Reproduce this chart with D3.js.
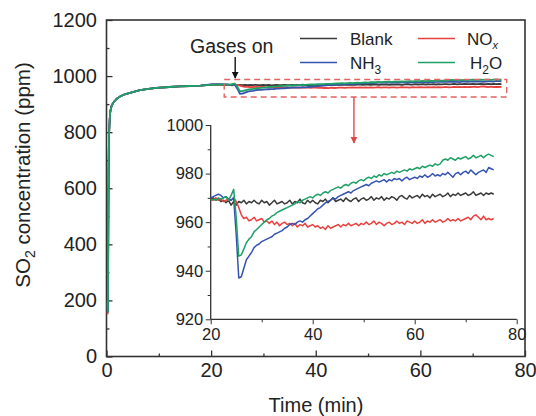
<!DOCTYPE html>
<html><head><meta charset="utf-8">
<script src="https://cdn.jsdelivr.net/npm/d3@7"></script>
<style>
body{margin:0;background:#fff;}
svg{display:block;font-family:"Liberation Sans",Arial,sans-serif;}
</style></head>
<body>
<svg id="chart" width="536" height="416"></svg>
<script>
// ---------------- DATA ----------------
// Start-up (0-18 min) shared rise, then the gas-exposure period (20-75.5 min, every 0.5 min)
const riseTime = [0.25,0.3,0.35,0.4,0.45,0.5,0.6,0.7,0.85,1.0,1.3,1.6,2.0,2.6,3.5,5,6.4,8,9.6,12,14,16,18];
const riseValues = [160,300,500,650,740,800,840,870,885,895,905,912,920,927,935,943,950,954,958,961,963,964.7,966];
const riseStart = {Blank:180, NOx:150, NH3:190, H2O:200};

const expTime = d3.range(20, 75.51, 0.5);

const blank = [
 969.5,970,969,969.5,968.5,969,968,969,967,968.5,
 967,968.5,968,969,967.5,968.5,968,969,968,967.5,
 969,968,968.5,967,968,969,967.5,968,968.5,967.5,
 968,969,967.5,968.5,968,969.5,968,967.5,969,968,
 969,968,967.5,969,968.5,969.5,968,969,970,968.5,
 969,969.5,968.5,970,969,968.5,969.5,970,968.5,969.5,
 970,969,969.5,970.5,969,970,969.5,970.5,969,970,
 969.5,970.5,970,969,970.5,971,970,969.5,971,970,
 970.5,971,970,971.5,970.5,971,970,971.5,970.5,971,
 971.5,970.5,971,972,970.5,971.5,971,972,971,971.5,
 972,971,971.5,972.5,971,971.5,972,971,972,971.5,
 972,971.5];
const nox = [
 969.5,969,970,969,969.5,968.5,969,969.5,969,970,
 968.5,966,963,961.5,962,960.5,961,962,960.5,961,
 961.5,960,960.5,959.5,960.5,959,960,958.5,959.5,960,
 959,959.5,958.5,959.5,958,959,958.5,959.5,958,958.5,
 959,958,958.5,957.5,958,957,958.5,957.5,958,958.5,
 959,958,959,958.5,959.5,958.5,959,959.5,958.5,959.5,
 959,960,959,959.5,960.5,959,960,959.5,958.5,959.5,
 960,959,959.5,960.5,959.5,960,959,960.5,960,959.5,
 960.5,959.5,960,961,959.5,960.5,960,961,960,960.5,
 961,960,960.5,961.5,960.5,961,960.5,961.5,960.5,961,
 961.5,962,961,962.5,963,962,961,962.5,961,961.5,
 961,961.5];
const nh3 = [
 970,970.5,971,971.5,971,970,970.5,969.5,969,970,
 955,937,937.5,941,944.5,946,947.5,949.5,950.5,951,
 952,952.5,953,953.5,954,955,955.5,956,956.5,957.5,
 958,959,959.5,959,960,960.5,960,961,961.5,962.5,
 963.5,964.5,965.5,966,967,968,968.5,969,970,969.5,
 970.5,971,971.5,972,972.5,972,973,973.5,974,974.5,
 975,975.5,975,976,976.5,977,976.5,977,977.5,976.5,
 977.5,977,978,977.5,978,977,978,978.5,977.5,978,
 978.5,978,979,978.5,979.5,978.5,979,980,979,979.5,
 979,980,979.5,980.5,979.5,978.5,980,980.5,979.5,980.5,
 981,980,981.5,980.5,979.5,980.5,981,981.5,980.5,982.5,
 982,981.5];
const h2o = [
 969,969.5,969,970,969.5,970,970.5,969,971,973.5,
 962,946,946.5,949,951.5,953,954,956,957,958,
 959,960,961,961.5,962.5,963,964,964.5,965,965.5,
 966,966.5,967,967.5,968.5,968,969,969.5,970,970.5,
 970,971,971.5,971,972,972.5,972,973,973.5,974,
 974.5,974,975,975.5,975,976,976.5,976,977,977.5,
 977,978,978.5,978,979,978.5,979.5,979,980,979.5,
 980,980.5,980,981,980.5,981,981.5,981,982,981.5,
 982,982.5,982,983,982.5,983,983.5,983,984,983.5,
 984,985.5,986,985.5,986.5,986,985.5,986.5,986,986.5,
 987,986,986.5,987.5,986.5,987,987.5,986.5,987.5,988,
 987.5,987];

const seriesNames = ["Blank","NOx","NH3","H2O"];
const seriesValues = [blank, nox, nh3, h2o];
const seriesColors = ["#3a3a3a","#e8423f","#3553b0","#1fa065"];

const mainXTicks = [0,20,40,60,80];
const mainYTicks = [0,200,400,600,800,1000,1200];
const insetXTicks = [20,40,60,80];
const insetYTicks = [920,940,960,980,1000];

// ---------------- DRAW ----------------
const svg = d3.select("#chart");
const font = "'Liberation Sans',Arial,sans-serif";
const ink = "#222";

// main scales
const x = d3.scaleLinear().domain([0,80]).range([106.5,525]);
const y = d3.scaleLinear().domain([0,1200]).range([356.5,20]);

const series = seriesNames.map((n,i)=>{
  const pts = [{t:0.2,v:riseStart[n]}];
  riseTime.forEach((t,j)=>pts.push({t,v:riseValues[j]}));
  expTime.forEach((t,j)=>pts.push({t,v:seriesValues[i][j]}));
  return {name:n,color:seriesColors[i],pts,exp:expTime.map((t,j)=>({t,v:seriesValues[i][j]}))};
});

// main axes (inward ticks)
function styleAxis(g){
  g.select(".domain").remove();
  g.selectAll("line").attr("stroke","#333").attr("stroke-width",1.3);
  g.selectAll("text").attr("fill",ink).attr("font-family",font);
}
const gx = svg.append("g").attr("transform",`translate(0,${y(0)})`)
  .call(d3.axisBottom(x).tickValues(mainXTicks).tickSize(-6).tickPadding(6).tickFormat(d3.format("d")));
gx.call(styleAxis); gx.selectAll("text").attr("font-size",20);
const gxm = svg.append("g").attr("transform",`translate(0,${y(0)})`)
  .call(d3.axisBottom(x).tickValues([10,30,50,70]).tickSize(-3).tickFormat(""));
gxm.call(styleAxis);
const gy = svg.append("g").attr("transform",`translate(${x(0)},0)`)
  .call(d3.axisLeft(y).tickValues(mainYTicks).tickSize(-6).tickPadding(9.5).tickFormat(d3.format("d")));
gy.call(styleAxis); gy.selectAll("text").attr("font-size",20);
const gym = svg.append("g").attr("transform",`translate(${x(0)},0)`)
  .call(d3.axisLeft(y).tickValues([100,300,500,700,900,1100]).tickSize(-3).tickFormat(""));
gym.call(styleAxis);

// frame
svg.append("rect").attr("x",x(0)).attr("y",y(1200))
  .attr("width",x(80)-x(0)).attr("height",y(0)-y(1200))
  .attr("fill","none").attr("stroke","#333").attr("stroke-width",1.6);

// main lines
const lineMain = d3.line().x(d=>x(d.t)).y(d=>y(d.v));
series.forEach(s=>{
  svg.append("path").datum(s.pts).attr("d",lineMain)
    .attr("fill","none").attr("stroke",s.color).attr("stroke-width",1.8)
    .attr("stroke-linejoin","round");
});

// axis titles
svg.append("text").attr("x",316).attr("y",412).attr("text-anchor","middle")
  .attr("font-size",20).attr("fill",ink).text("Time (min)");
const yt = svg.append("text").attr("transform","translate(30,175) rotate(-90)")
  .attr("text-anchor","middle").attr("font-size",20.5).attr("fill",ink);
yt.append("tspan").text("SO");
yt.append("tspan").attr("font-size",14).attr("dy",5).text("2");
yt.append("tspan").attr("dy",-5).text(" concentration (ppm)");

// dashed highlight box
svg.append("rect").attr("x",x(22.5)).attr("y",79.5)
  .attr("width",x(76.5)-x(22.5)).attr("height",17.5)
  .attr("fill","none").attr("stroke","#e26363").attr("stroke-width",1.4)
  .attr("stroke-dasharray","6,4");

// arrows
const defs = svg.append("defs");
function marker(id,color){
  defs.append("marker").attr("id",id).attr("viewBox","0 0 10 10").attr("refX",9).attr("refY",5)
    .attr("markerWidth",5).attr("markerHeight",6).attr("orient","auto")
    .append("path").attr("d","M0,0L10,5L0,10z").attr("fill",color);
}
marker("ab","#111"); marker("ar","#e04848");
svg.append("line").attr("x1",x(24.6)).attr("x2",x(24.6)).attr("y1",57).attr("y2",78)
  .attr("stroke","#111").attr("stroke-width",1.4).attr("marker-end","url(#ab)");
svg.append("line").attr("x1",x(47.3)).attr("x2",x(47.3)).attr("y1",97).attr("y2",143)
  .attr("stroke","#e04848").attr("stroke-width",1.4).attr("marker-end","url(#ar)");

svg.append("text").attr("x",190).attr("y",53).attr("font-size",19.5).attr("fill",ink).text("Gases on");

// legend
const legendPos = [[300,38.5],[418,38.5],[300,62.5],[418,62.5]];
series.forEach((s,i)=>{
  const [lx,ly] = legendPos[i];
  svg.append("line").attr("x1",lx).attr("x2",lx+37).attr("y1",ly).attr("y2",ly)
    .attr("stroke",s.color).attr("stroke-width",1.5);
});
function legText(xp,yp){return svg.append("text").attr("x",xp).attr("y",yp).attr("font-size",17).attr("fill",ink);}
legText(350,45).text("Blank");
const tn = legText(467,45); tn.append("tspan").text("NO");
tn.append("tspan").attr("font-size",11).attr("font-style","italic").attr("dy",4).text("x");
const ta = legText(350,69); ta.append("tspan").text("NH");
ta.append("tspan").attr("font-size",12).attr("dy",5).text("3");
const tw = legText(470,69); tw.append("tspan").text("H");
tw.append("tspan").attr("font-size",12).attr("dy",5).text("2");
tw.append("tspan").attr("dy",-5).text("O");

// ---------------- INSET ----------------
const xi = d3.scaleLinear().domain([20,80]).range([210.7,516.7]);
const yi = d3.scaleLinear().domain([920,1000]).range([319.3,125]);
const gi = svg.append("g");
const gix = gi.append("g").attr("transform",`translate(0,${yi(920)})`)
  .call(d3.axisBottom(xi).tickValues(insetXTicks).tickSize(5).tickPadding(3.5).tickFormat(d3.format("d")));
gix.selectAll("text").attr("font-size",16.5).attr("fill",ink).attr("font-family",font);
gix.selectAll("line").attr("stroke","#333");
gix.select(".domain").attr("stroke","#333").attr("stroke-width",1.3).attr("d",`M${xi(20)},0H${xi(80)}`);
const gixm = gi.append("g").attr("transform",`translate(0,${yi(920)})`)
  .call(d3.axisBottom(xi).tickValues([30,50,70]).tickSize(3).tickFormat(""));
gixm.select(".domain").remove(); gixm.selectAll("line").attr("stroke","#333");
const giy = gi.append("g").attr("transform",`translate(${xi(20)},0)`)
  .call(d3.axisLeft(yi).tickValues(insetYTicks).tickSize(5).tickPadding(2.5).tickFormat(d3.format("d")));
giy.selectAll("text").attr("font-size",16.5).attr("fill",ink).attr("font-family",font);
giy.selectAll("line").attr("stroke","#333");
giy.select(".domain").attr("stroke","#333").attr("stroke-width",1.3).attr("d",`M0,${yi(920)}V${yi(1000)}`);
const giym = gi.append("g").attr("transform",`translate(${xi(20)},0)`)
  .call(d3.axisLeft(yi).tickValues([930,950,970,990]).tickSize(3).tickFormat(""));
giym.select(".domain").remove(); giym.selectAll("line").attr("stroke","#333");

const lineIn = d3.line().x(d=>xi(d.t)).y(d=>yi(d.v));
series.forEach(s=>{
  gi.append("path").datum(s.exp).attr("d",lineIn)
    .attr("fill","none").attr("stroke",s.color).attr("stroke-width",1.5)
    .attr("stroke-linejoin","round");
});
</script>
</body></html>
